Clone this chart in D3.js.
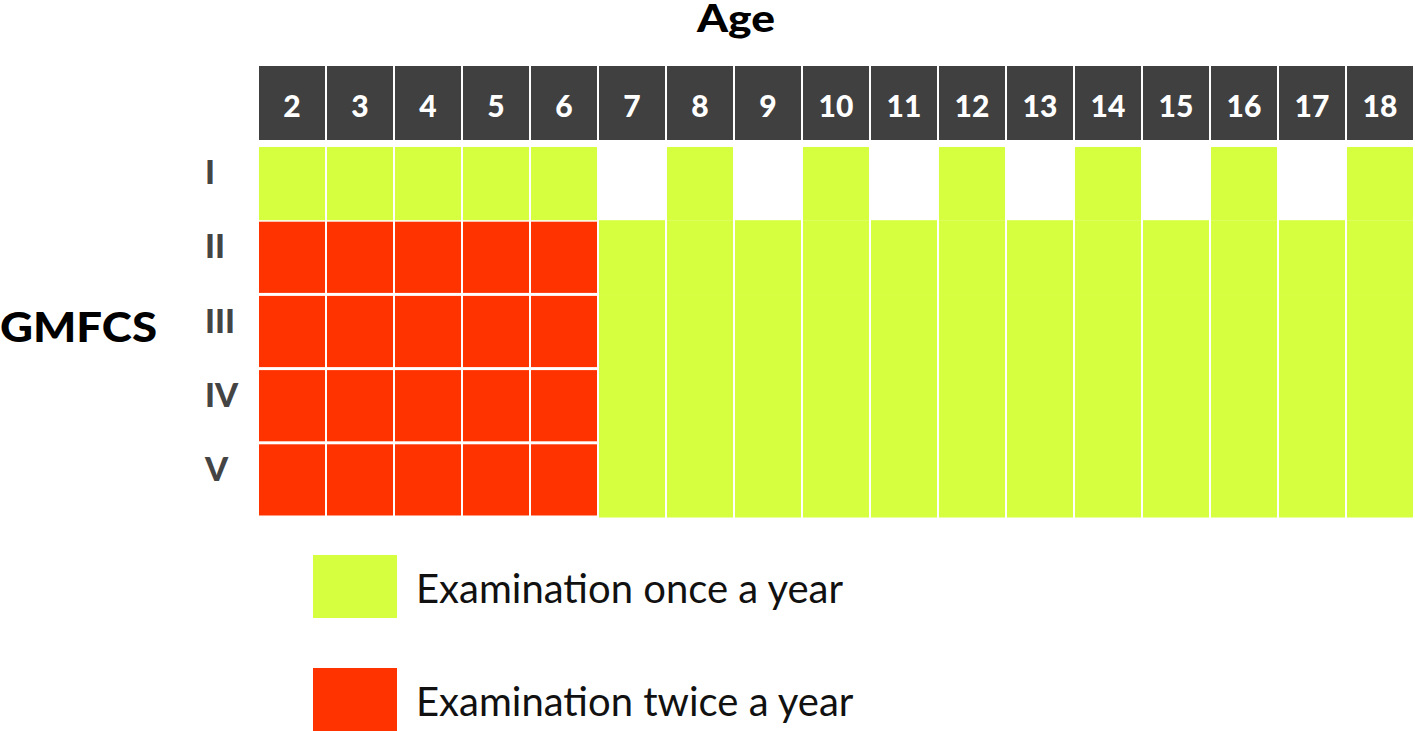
<!DOCTYPE html>
<html>
<head>
<meta charset="utf-8">
<script src="https://cdn.jsdelivr.net/npm/d3@7"></script>
<style>
  body { margin: 0; background: #fff; }
  svg { display: block; font-family: Lato, "Open Sans", sans-serif; }
</style>
</head>
<body>
<svg class="chart"></svg>
<script>
var width = 1415;
var height = 731;

// ages along the top, GMFCS levels down the side
var ages = [2, 3, 4, 5, 6, 7, 8, 9, 10, 11, 12, 13, 14, 15, 16, 17, 18];
var levels = ["I", "II", "III", "IV", "V"];

// examinations per year for each level (0 = none that year)
var levelI   = [1, 1, 1, 1, 1, 0, 1, 0, 1, 0, 1, 0, 1, 0, 1, 0, 1];
var levelII  = [2, 2, 2, 2, 2, 1, 1, 1, 1, 1, 1, 1, 1, 1, 1, 1, 1];
var levelIII = [2, 2, 2, 2, 2, 1, 1, 1, 1, 1, 1, 1, 1, 1, 1, 1, 1];
var levelIV  = [2, 2, 2, 2, 2, 1, 1, 1, 1, 1, 1, 1, 1, 1, 1, 1, 1];
var levelV   = [2, 2, 2, 2, 2, 1, 1, 1, 1, 1, 1, 1, 1, 1, 1, 1, 1];

var legendLabels = ["Examination once a year", "Examination twice a year"];

var GREEN = "#d6ff40";
var RED = "#ff3300";
var HEAD = "#404040";

var rows = [levelI, levelII, levelIII, levelIV, levelV];

var cells = [];
rows.forEach(function(row, i) {
    row.forEach(function(v, j) {
        cells.push({level: levels[i], age: ages[j], exams: v});
    });
});

var chart = d3.select(".chart")
    .attr("width", width)
    .attr("height", height);

var x = d3.scaleBand()
    .domain(ages)
    .range([259, 1415]);

var y = d3.scaleBand()
    .domain(levels)
    .range([146, 517]);

var colour = d3.scaleOrdinal()
    .domain([1, 2])
    .range([GREEN, RED]);

var gap = 2;

// titles (stretched a little, the original face is wider than Lato)
chart.append("text")
    .attr("x", 697)
    .attr("y", 32)
    .attr("textLength", 78)
    .attr("lengthAdjust", "spacingAndGlyphs")
    .style("font-weight", 900)
    .style("font-size", "38px")
    .attr("fill", "#000")
    .text("Age");

chart.append("text")
    .attr("x", 0)
    .attr("y", 342)
    .attr("textLength", 157)
    .attr("lengthAdjust", "spacingAndGlyphs")
    .style("font-weight", 900)
    .style("font-size", "41px")
    .attr("fill", "#000")
    .text("GMFCS");

// header row
var head = chart.append("g");
head.selectAll("rect")
    .data(ages)
    .enter()
    .append("rect")
    .attr("x", function(d) { return x(d); })
    .attr("y", 66)
    .attr("width", x.bandwidth() - gap)
    .attr("height", 74)
    .attr("fill", HEAD);

head.selectAll("text")
    .data(ages)
    .enter()
    .append("text")
    .attr("x", function(d) { return x(d) + (x.bandwidth() - gap) / 2; })
    .attr("y", 117)
    .attr("text-anchor", "middle")
    .style("font-weight", 900)
    .style("font-size", "30px")
    .attr("fill", "#fff")
    .text(function(d) { return d; });

// grid of cells
chart.append("g")
    .selectAll("rect")
    .data(cells.filter(function(d) { return d.exams > 0; }))
    .enter()
    .append("rect")
    .attr("x", function(d) { return x(d.age); })
    .attr("y", function(d) {
        if (d.exams == 2) return y(d.level) + 1.5;
        return d.level == "I" ? y(d.level) + 1 : y(d.level);
    })
    .attr("width", x.bandwidth() - gap)
    .attr("height", function(d) {
        if (d.exams == 2) return y.bandwidth() - 3;
        return d.level == "I" ? y.bandwidth() - 1 : y.bandwidth() + 0.5;
    })
    .attr("fill", function(d) { return colour(d.exams); });

// row labels
chart.append("g")
    .selectAll("text")
    .data(levels)
    .enter()
    .append("text")
    .attr("x", 205)
    .attr("y", function(d) { return y(d) + y.bandwidth() / 2 + 1; })
    .style("font-weight", 900)
    .style("font-size", "33px")
    .attr("fill", "#444")
    .text(function(d) { return d; });

// legend
var legend = chart.append("g")
    .selectAll("g")
    .data([1, 2])
    .enter()
    .append("g")
    .attr("transform", function(d, i) { return "translate(313," + (555 + i * 113) + ")"; });

legend.append("rect")
    .attr("width", 84)
    .attr("height", 63)
    .attr("fill", function(d) { return colour(d); });

legend.append("text")
    .attr("x", 103)
    .attr("y", 48)
    .style("font-size", "40px")
    .attr("fill", "#111")
    .text(function(d, i) { return legendLabels[i]; });
</script>
</body>
</html>
